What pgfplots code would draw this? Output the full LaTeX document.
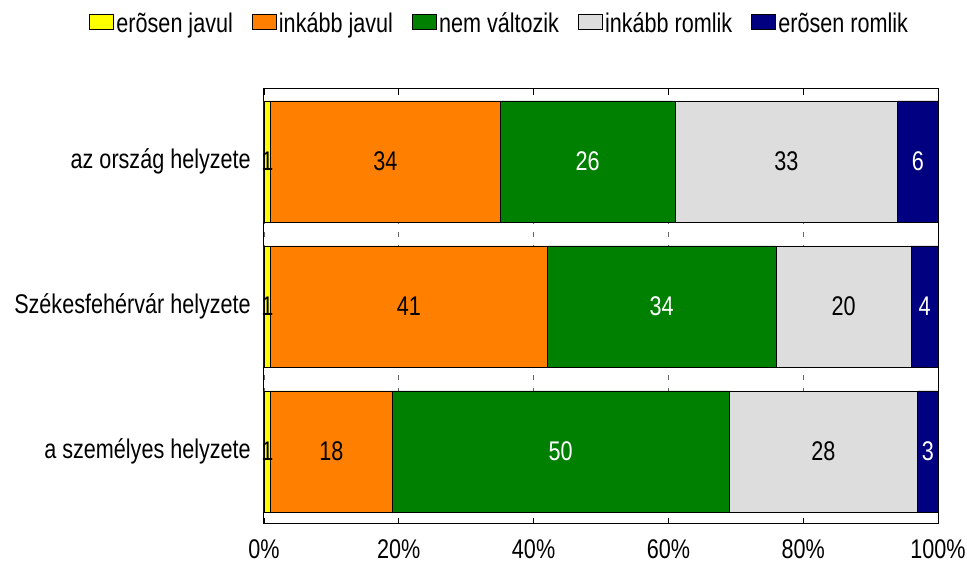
\documentclass[border=0pt]{standalone}
\usepackage{fontspec}
\setmainfont{Liberation Sans}[FakeStretch=0.8]
\usepackage{pgfplots}
\usepackage{pgfplotstable}
\pgfplotsset{compat=1.18}
\definecolor{cyel}{RGB}{255,255,0}
\definecolor{cora}{RGB}{255,128,0}
\definecolor{cgre}{RGB}{0,128,0}
\definecolor{cgry}{RGB}{221,221,221}
\definecolor{cnav}{RGB}{0,0,128}
\pgfplotstableread{
pos yj ij nv ir er
0 1 34 26 33 6
1 1 41 34 20 4
2 1 18 50 28 3
}\data
\newcommand{\bigf}{\fontsize{27}{32}\selectfont}
\pgfplotsset{
  lbl/.style={nodes near coords, point meta=explicit,
    every node near coord/.append style={text=#1, anchor=center, font=\bigf, inner sep=0pt}},
}
\begin{document}
\begin{tikzpicture}[x=1pt,y=1pt,font=\bigf]
\path[use as bounding box] (0,0) rectangle (967,561);
\begin{axis}[
  at={(264pt,37pt)}, anchor=south west,
  scale only axis, width=674pt, height=435pt,
  xbar stacked, bar width=121pt,
  xmin=0, xmax=100, ymin=-0.5, ymax=2.5, y dir=reverse,
  ytick={0,1,2},
  yticklabels={az ország helyzete, Székesfehérvár helyzete, a személyes helyzete},
  xtick={0,20,...,100},
  xticklabel={\pgfmathprintnumber{\tick}\%},
  /pgf/number format/assume math mode=true,
  tick align=inside, xtick pos=both,
  ytick style={draw=none},
  major tick length=6pt,
  xtick style={black, line width=0.8pt},
  tick label style={font=\bigf},
  yticklabel style={inner sep=0pt, xshift=-13pt},
  xticklabel style={inner sep=0pt, yshift=-15pt},
  axis line style={black, line width=1pt},
  xmajorgrids,
  major grid style={dash pattern=on 5pt off 8pt, black!60, line width=0.8pt},
  clip=false,
  legend style={draw=none, at={(0.349,1.146)}, anchor=center, legend columns=-1, font=\bigf,
    /tikz/every odd column/.append style={column sep=1pt},
    /tikz/every even column/.append style={column sep=18pt},
    nodes={inner sep=1pt, text height=19.5pt, text depth=5.7pt}},
  legend image code/.code={\draw[#1,draw=black,line width=1pt] (0pt,-3.9pt) rectangle (24pt,11.1pt);},
]
\addplot[fill=cyel, draw=black, line width=0.8pt, lbl=black] table[x=yj, y=pos, meta=yj] {\data};
\addplot[fill=cora, draw=black, line width=0.8pt, lbl=black] table[x=ij, y=pos, meta=ij] {\data};
\addplot[fill=cgre, draw=black, line width=0.8pt, lbl=white] table[x=nv, y=pos, meta=nv] {\data};
\addplot[fill=cgry, draw=black, line width=0.8pt, lbl=black] table[x=ir, y=pos, meta=ir] {\data};
\addplot[fill=cnav, draw=black, line width=0.8pt, lbl=white] table[x=er, y=pos, meta=er] {\data};
\legend{erõsen javul, inkább javul, nem változik, inkább romlik, erõsen romlik}
\end{axis}
\end{tikzpicture}
\end{document}
